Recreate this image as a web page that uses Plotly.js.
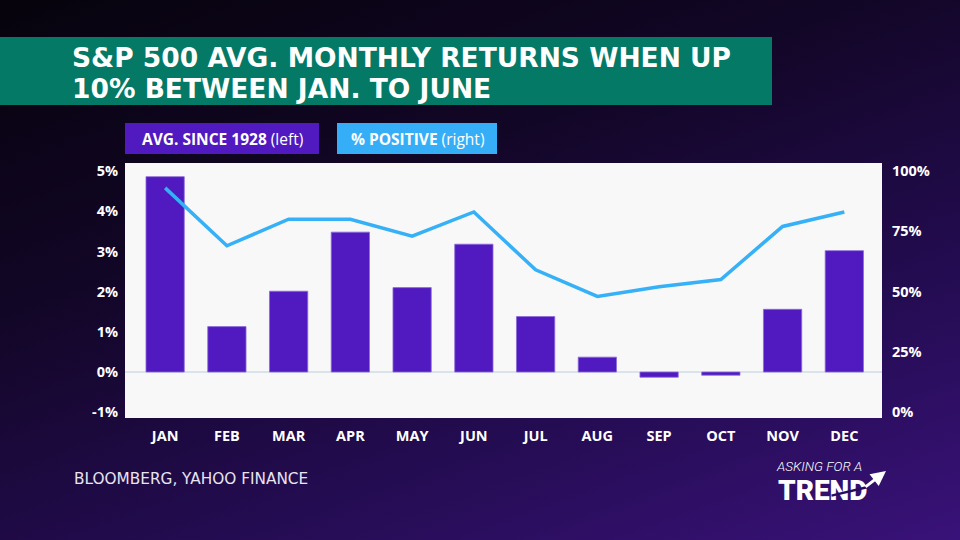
<!DOCTYPE html>
<html>
<head>
<meta charset="utf-8">
<script src="https://cdn.plot.ly/plotly-3.0.1.min.js"></script>
<style>
  html, body { margin:0; padding:0; width:960px; height:540px; overflow:hidden; }
  body { background: linear-gradient(160deg, #06030c 0%, #120626 35%, #240c52 70%, #391279 100%); }
  #chart { width:960px; height:540px; }
</style>
</head>
<body>
<div id="chart"></div>
<script>
// Data
const months = ["JAN","FEB","MAR","APR","MAY","JUN","JUL","AUG","SEP","OCT","NOV","DEC"];
const avgReturn = [4.86, 1.13, 2.01, 3.48, 2.10, 3.18, 1.38, 0.37, -0.13, -0.08, 1.56, 3.02];
const pctPositive = [93, 69, 80, 80, 73, 83, 59, 48, 52, 55, 77, 83];
const leftTicks = [-1, 0, 1, 2, 3, 4, 5];
const rightTicks = [0, 25, 50, 75, 100];

const W = 960, H = 540;
const px = v => v / W;
const py = v => 1 - v / H;

const tickFont = {family: "Open Sans", size: 14.5, color: "#ffffff", weight: 700};
const titleFont = {family: "DejaVu Sans, sans-serif", size: 26.5, color: "#ffffff", weight: 700};

const traces = [
  {
    type: "bar", x: months, y: avgReturn, yaxis: "y",
    marker: {color: "#501ac0", line: {color: "#8b6bd9", width: 0.8}},
    hoverinfo: "skip", showlegend: false
  },
  {
    type: "scatter", mode: "lines", x: months, y: pctPositive, yaxis: "y2",
    line: {color: "#36b0f7", width: 3.5},
    hoverinfo: "skip", showlegend: false
  }
];

const layout = {
  width: W, height: H,
  margin: {l: 0, r: 0, t: 0, b: 0},
  paper_bgcolor: "rgba(0,0,0,0)",
  plot_bgcolor: "#f8f8f8",
  bargap: 0.38,
  xaxis: {
    domain: [px(125), px(882)],
    range: [-0.65, 11.61],
    showgrid: false, zeroline: false, showline: false,
    tickfont: tickFont, ticks: "", ticklabelstandoff: 7,
    fixedrange: true
  },
  yaxis: {
    domain: [py(418), py(163)],
    range: [-1.144, 5.2],
    tickvals: leftTicks, ticktext: leftTicks.map(v => v + "%"),
    showgrid: false, zeroline: true, zerolinecolor: "#dbe3ea", zerolinewidth: 2,
    showline: false, ticks: "", tickfont: tickFont, ticklabelstandoff: 6,
    fixedrange: true
  },
  yaxis2: {
    overlaying: "y", side: "right", anchor: "x",
    range: [-2.4, 103.3],
    tickvals: rightTicks, ticktext: rightTicks.map(v => v + "%"),
    showgrid: false, zeroline: false, showline: false, ticks: "",
    tickfont: tickFont, ticklabelstandoff: 9,
    fixedrange: true
  },
  shapes: [
    {type: "rect", xref: "paper", yref: "paper", x0: 0, x1: px(772), y0: py(105), y1: py(37),
     fillcolor: "#037966", line: {width: 0}, layer: "below"},
    {type: "rect", xref: "paper", yref: "paper", x0: px(125), x1: px(319), y0: py(154), y1: py(123),
     fillcolor: "#501ac0", line: {width: 0}},
    {type: "rect", xref: "paper", yref: "paper", x0: px(337), x1: px(497), y0: py(154), y1: py(123),
     fillcolor: "#36aef7", line: {width: 0}}
  ],
  annotations: [
    {xref: "paper", yref: "paper", x: px(71), y: py(57.5), xanchor: "left", yanchor: "middle",
     text: "S&P 500 AVG. MONTHLY RETURNS WHEN UP", showarrow: false, borderpad: 0,
     font: titleFont},
    {xref: "paper", yref: "paper", x: px(71), y: py(88.5), xanchor: "left", yanchor: "middle",
     text: "10% BETWEEN JAN. TO JUNE", showarrow: false, borderpad: 0,
     font: titleFont},
    {xref: "paper", yref: "paper", x: px(222), y: py(139), xanchor: "center", yanchor: "middle",
     text: "<b>AVG. SINCE 1928</b> (left)", showarrow: false,
     font: {family: "Open Sans", size: 15.5, color: "#ffffff"}},
    {xref: "paper", yref: "paper", x: px(417), y: py(139), xanchor: "center", yanchor: "middle",
     text: "<b>% POSITIVE</b> (right)", showarrow: false,
     font: {family: "Open Sans", size: 15.5, color: "#ffffff"}},
    {xref: "paper", yref: "paper", x: px(72), y: py(479), xanchor: "left", yanchor: "middle",
     text: "BLOOMBERG, YAHOO FINANCE", showarrow: false,
     font: {family: "DejaVu Sans", size: 15.3, color: "#e8e4f0"}},
    {xref: "paper", yref: "paper", x: px(775), y: py(465.5), xanchor: "left", yanchor: "middle",
     text: "<i>ASKING FOR A</i>", showarrow: false, borderpad: 0,
     font: {family: "Roboto", size: 13.5, color: "#ffffff", weight: 300}},
    {xref: "paper", yref: "paper", x: px(777), y: py(490), xanchor: "left", yanchor: "middle",
     text: "TREND", showarrow: false, borderpad: 0,
     font: {family: "Roboto", size: 28, color: "#ffffff", weight: 900}},
    {xref: "paper", yref: "paper", ax: px(830), ay: py(496), axref: "paper", ayref: "paper",
     x: px(868), y: py(487), text: "", showarrow: true,
     arrowcolor: "#2a0c5e", arrowwidth: 2.5, arrowhead: 0},
    {xref: "paper", yref: "paper", ax: px(864), ay: py(488), axref: "paper", ayref: "paper",
     x: px(886), y: py(471), text: "", showarrow: true,
     arrowcolor: "#ffffff", arrowwidth: 3, arrowhead: 2, arrowsize: 1}
  ]
};

Plotly.newPlot("chart", traces, layout, {displayModeBar: false, staticPlot: true});
</script>
</body>
</html>
